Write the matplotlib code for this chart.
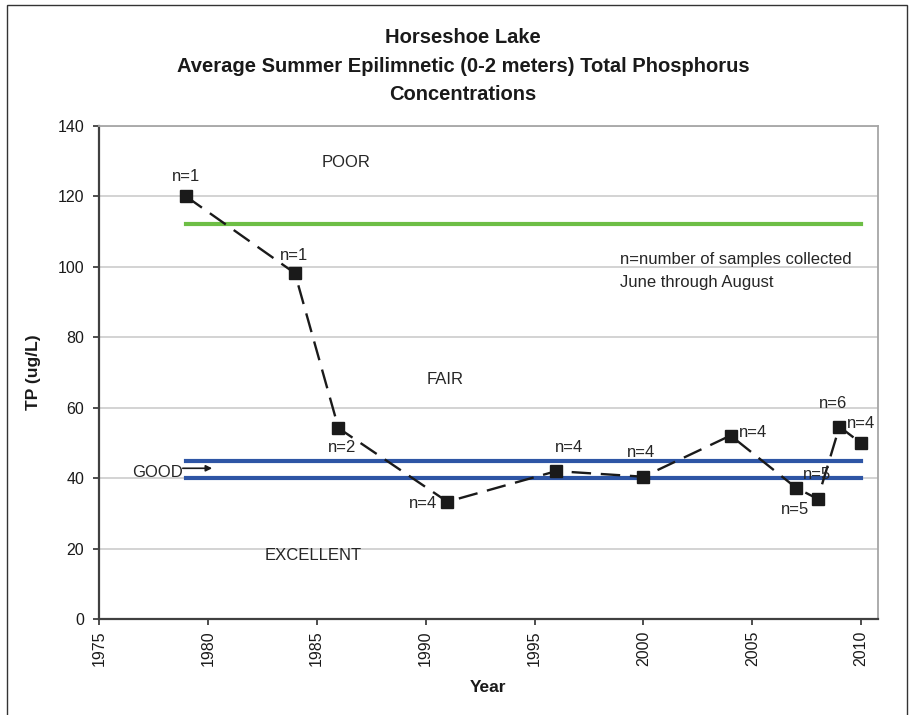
import matplotlib
matplotlib.use("Agg")
import matplotlib.pyplot as plt
from matplotlib.patches import Rectangle

plt.rcParams['font.family'] = ['Liberation Sans', 'DejaVu Sans']
plt.rcParams['lines.scale_dashes'] = False

# ---- data ----
years = [1979, 1984, 1986, 1991, 1996, 2000, 2004, 2007, 2008, 2009, 2010]
tp = [120, 98.2, 54.2, 33.3, 42.0, 40.4, 52.1, 37.3, 34.1, 54.6, 49.9]
n_labels = ["n=1", "n=1", "n=2", "n=4", "n=4", "n=4", "n=4", "n=5", "n=5", "n=6", "n=4"]

poor_limit = 112.3
good_upper = 45
good_lower = 40
line_start, line_end = 1979, 2010

xticks = [1975, 1980, 1985, 1990, 1995, 2000, 2005, 2010]
yticks = [0, 20, 40, 60, 80, 100, 120, 140]

title_lines = ["Horseshoe Lake",
               "Average Summer Epilimnetic (0-2 meters) Total Phosphorus",
               "Concentrations"]

# label placement (x, y, ha) for each n label, in data coords
label_pos = [(1979.0, 125.8, 'center'), (1983.96, 103.1, 'center'),
             (1986.15, 48.8, 'center'), (1989.87, 32.9, 'center'),
             (1996.58, 48.7, 'center'), (1999.9, 47.2, 'center'),
             (2004.39, 52.9, 'left'), (2006.96, 31.0, 'center'),
             (2007.96, 40.9, 'center'), (2008.72, 61.1, 'center'),
             (2009.36, 55.4, 'left')]

W, H = 912, 715
fig = plt.figure(figsize=(W / 100, H / 100), dpi=100)
fig.patch.set_facecolor('white')

# outer chart border
fig.patches.append(Rectangle((7 / W, -0.05), 900 / W, 1.05 - 5 / H,
                             transform=fig.transFigure, fill=False,
                             edgecolor='#333333', linewidth=1.0))

ax = fig.add_axes([98.9 / W, 1 - 619 / H, (878 - 98.9) / W, (619 - 126) / H])
ax.set_xlim(1975, 2010.77)
ax.set_ylim(0, 140)
ax.set_xticks(xticks)
ax.set_yticks(yticks)
ax.set_xticklabels([str(x) for x in xticks], rotation=90, fontsize=11.5, color='#1a1a1a')
ax.set_yticklabels([str(y) for y in yticks], fontsize=11.5, color='#1a1a1a')
ax.tick_params(axis='both', direction='out', length=4.5, width=1.3, color='#404040')
ax.tick_params(axis='y', pad=6)
ax.tick_params(axis='x', pad=4)

ax.yaxis.grid(True, color='#c8c8c8', linewidth=1.1)
ax.set_axisbelow(True)
for s in ['left', 'bottom']:
    ax.spines[s].set_color('#404040')
    ax.spines[s].set_linewidth(1.6)
for s in ['top', 'right']:
    ax.spines[s].set_color('#a6a6a6')
    ax.spines[s].set_linewidth(1.3)

# threshold lines
ax.plot([line_start, line_end], [poor_limit, poor_limit], color='#6dbe45', linewidth=3.0, zorder=2)
ax.plot([line_start, line_end], [good_upper, good_upper], color='#2e55a5', linewidth=3.0, zorder=2)
ax.plot([line_start, line_end], [good_lower, good_lower], color='#2e55a5', linewidth=3.0, zorder=2)

# data series
ax.plot(years, tp, color='#1a1a1a', linewidth=1.7, dashes=(14, 7),
        marker='s', markersize=8.5, markerfacecolor='#1a1a1a',
        markeredgecolor='#1a1a1a', zorder=4)

txt_kw = dict(fontsize=12, color='#262626')
for lab, (x, y, ha) in zip(n_labels, label_pos):
    ax.text(x, y, lab, ha=ha, va='center', zorder=5, **txt_kw)

ax.text(1986.35, 129.7, "POOR", ha='center', va='center', **txt_kw)
ax.text(1990.9, 68.1, "FAIR", ha='center', va='center', **txt_kw)
ax.text(1977.68, 41.7, "GOOD", ha='center', va='center', **txt_kw)
ax.text(1984.83, 17.9, "EXCELLENT", ha='center', va='center', **txt_kw)
ax.text(1998.93, 102.2, "n=number of samples collected", ha='left', va='center', **txt_kw)
ax.text(1998.93, 95.6, "June through August", ha='left', va='center', **txt_kw)
ax.annotate("", xy=(1980.2, 42.8), xytext=(1978.85, 42.8),
            arrowprops=dict(arrowstyle='-|>', color='#1a1a1a', lw=1.2,
                            mutation_scale=9, shrinkA=0, shrinkB=0))

ax.set_ylabel("TP (ug/L)", fontsize=12.5, fontweight='bold', color='#1a1a1a', labelpad=12)
ax.set_xlabel("Year", fontsize=12.5, fontweight='bold', color='#1a1a1a', labelpad=10)

title_y = [43, 71.7, 100]
for t, yb in zip(title_lines, title_y):
    fig.text(463 / W, 1 - yb / H, t, ha='center', va='baseline',
             fontsize=14.5, fontweight='bold', color='#1a1a1a')

fig.savefig("out.png", dpi=100)
